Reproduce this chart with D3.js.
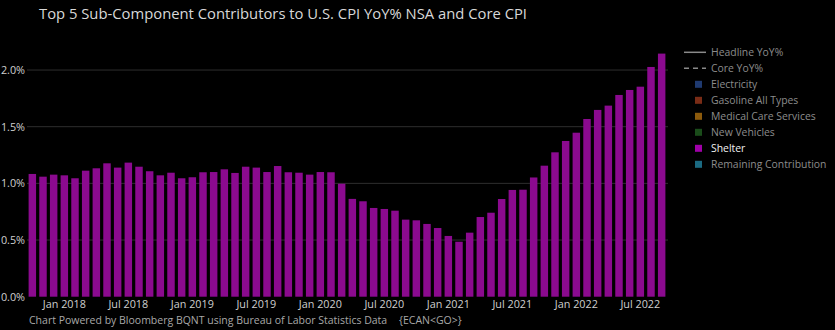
<!DOCTYPE html>
<html><head><meta charset="utf-8">
<script src="https://cdn.jsdelivr.net/npm/d3@7"></script>
<style>
html,body{margin:0;padding:0;background:#000;}
svg{display:block;font-family:"Open Sans",sans-serif;}
</style></head><body>
<svg id="c" width="835" height="330"></svg>
<script>
// Data (months Oct 2017 .. Sep 2022), Shelter contribution to CPI YoY %
const months = d3.timeMonths(new Date(2017, 9, 1), new Date(2022, 9, 1));
const shelter = [
  1.083, 1.059, 1.077, 1.071, 1.045, 1.112, 1.133, 1.177, 1.139, 1.183,
  1.147, 1.107, 1.071, 1.094, 1.045, 1.054, 1.098, 1.100, 1.124, 1.092,
  1.147, 1.139, 1.100, 1.153, 1.098, 1.094, 1.077, 1.100, 1.098, 0.997,
  0.863, 0.842, 0.783, 0.774, 0.759, 0.680, 0.674, 0.642, 0.606, 0.536,
  0.485, 0.565, 0.703, 0.741, 0.862, 0.942, 0.944, 1.052, 1.156, 1.274,
  1.374, 1.447, 1.568, 1.648, 1.686, 1.780, 1.824, 1.853, 2.027, 2.145
];
const yTicks = [0, 0.5, 1.0, 1.5, 2.0];
const xTickLabels = ["Jan 2018","Jul 2018","Jan 2019","Jul 2019","Jan 2020","Jul 2020","Jan 2021","Jul 2021","Jan 2022","Jul 2022"];
const legendNames = ["Headline YoY%","Core YoY%","Electricity","Gasoline All Types","Medical Care Services","New Vehicles","Shelter","Remaining Contribution"];
const legendColors = [null, null, "#1f3a70", "#7a2c16", "#8c5a0c", "#1a4c1a", "#a000a8", "#1b6a82"];
const titleText = "Top 5 Sub-Component Contributors to U.S. CPI YoY% NSA and Core CPI";
const footerText = "Chart Powered by Bloomberg BQNT using Bureau of Labor Statistics Data";
const footerCode = "{ECAN<GO>}";

const svg = d3.select("#c");
const fmtKey = d3.timeFormat("%Y-%m");
const x = d3.scaleBand().domain(months.map(fmtKey)).range([27, 667]).paddingInner(0.3).paddingOuter(0.15);
const y = d3.scaleLinear().domain([0, 2.25]).range([296.7, 41.7]);

// title
svg.append("text").attr("x", 39).attr("y", 19).attr("fill", "#d8d8d8")
  .attr("font-size", 14.8).text(titleText);

// gridlines
svg.append("g").selectAll("line").data(yTicks.filter(d => d > 0)).join("line")
  .attr("x1", 27).attr("x2", 668).attr("y1", d => y(d)).attr("y2", d => y(d))
  .attr("stroke", "#2e2e2e").attr("stroke-width", 1);

// y axis
const yAxis = svg.append("g").attr("transform", "translate(27,0)")
  .call(d3.axisLeft(y).tickValues(yTicks).tickFormat(d => d.toFixed(1) + "%").tickSize(0).tickPadding(2));
yAxis.select(".domain").remove();
yAxis.selectAll("text").attr("fill", "#cfcfcf").attr("font-size", 10.8).attr("font-family", "Open Sans");

// bars
svg.append("g").selectAll("rect").data(shelter).join("rect")
  .attr("x", (d, i) => x(fmtKey(months[i])))
  .attr("width", x.bandwidth())
  .attr("y", d => y(d))
  .attr("height", d => y(0) - y(d))
  .attr("fill", "#8b0a8f");

// x axis
const tickKeys = months.filter(m => m.getMonth() === 0 || m.getMonth() === 6).map(fmtKey);
const xAxis = svg.append("g").attr("transform", `translate(0,${y(0)})`)
  .call(d3.axisBottom(x).tickValues(tickKeys).tickFormat((d, i) => xTickLabels[i]).tickSize(0).tickPadding(4));
xAxis.select(".domain").remove();
xAxis.selectAll("text").attr("fill", "#cfcfcf").attr("font-size", 10.8).attr("font-family", "Open Sans");

// footer
svg.append("text").attr("x", 29).attr("y", 324).attr("fill", "#a8a8a8").attr("font-size", 10.5).text(footerText);
svg.append("text").attr("x", 399).attr("y", 324).attr("fill", "#a8a8a8").attr("font-size", 10.5).text(footerCode);

// legend
const lg = svg.append("g");
legendNames.forEach((name, i) => {
  const cy = 52.3 + i * 16;
  if (i === 0) {
    lg.append("line").attr("x1", 684).attr("x2", 706).attr("y1", cy).attr("y2", cy).attr("stroke", "#8a8a8a").attr("stroke-width", 1.5);
  } else if (i === 1) {
    lg.append("line").attr("x1", 684).attr("x2", 706).attr("y1", cy).attr("y2", cy).attr("stroke", "#8a8a8a").attr("stroke-width", 1.5).attr("stroke-dasharray", "5,4");
  } else {
    lg.append("rect").attr("x", 695).attr("y", cy - 3.5).attr("width", 7).attr("height", 7).attr("fill", legendColors[i]);
  }
  lg.append("text").attr("x", 711).attr("y", cy + 4).attr("font-size", 10.4)
    .attr("fill", name === "Shelter" ? "#f0f0f0" : "#8c8c8c").text(name);
});
</script>
</body></html>
